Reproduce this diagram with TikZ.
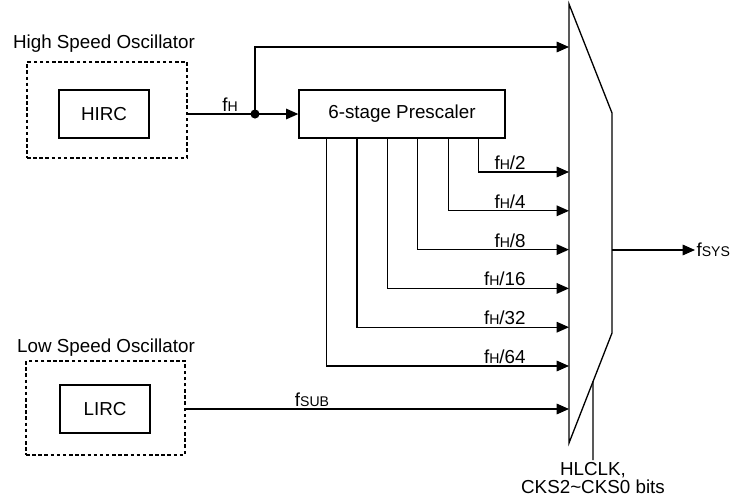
\documentclass[tikz,border=0pt]{standalone}
\usepackage{fontspec}
\setmainfont{Liberation Sans}
\usetikzlibrary{
    arrows.meta,
    calc,
    positioning
}
\newcommand{\sbs}[1]{{\fontsize{8}{9}\selectfont #1}}
\tikzset{
  every path/.style={
    black,
    line width=0.75pt
  },
  every node/.style={
    font=\fontsize{10.7}{12}\selectfont,
    inner sep=1pt
  },
  blk/.style={draw, minimum height=0.96cm, inner sep=0pt},
  osc/.style={draw, dash pattern=on 2pt off 1.5pt}
}

\begin{document}
\begin{tikzpicture}[x=0.02cm,y=-0.02cm,>={Triangle[length=7pt,width=6pt]}]
    \useasboundingbox (0,0) rectangle (735,501);

    % 高速発振器
    \node[osc,minimum width=3.2cm,minimum height=1.92cm] (hosc) at (107,110) {};
    \node[blk,minimum width=1.8cm] (hirc) at (104,114) {HIRC};
    \node[anchor=base] (hlabel) at (104,48) {High Speed Oscillator};

    % 低速発振器
    \node[osc,minimum width=3.18cm,minimum height=1.88cm] (losc) at (105.5,408) {};
    \node[blk,minimum width=1.8cm] (lirc) at (105,409) {LIRC};
    \node[anchor=base] (llabel) at (106,352) {Low Speed Oscillator};

    % プリスケーラ
    \node[blk,minimum width=4.12cm] (presc) at (402,114) {6-stage Prescaler};

    % セレクタ
    \coordinate (mtl) at (569,4);
    \coordinate (mtr) at (612,113);
    \coordinate (mbr) at (612,333);
    \coordinate (mbl) at (569,443);
    \draw (mtl) -- (mtr) -- (mbr) -- (mbl) -- cycle;

    % f_H
    \coordinate (split) at (255,114);
    \coordinate (hin) at (569,47);
    \draw (hirc -| hosc.east) -- (split);
    \fill (split) circle (2.6pt);
    \node[anchor=south] (fh) at (230,114) {f\sbs{H}};
    \draw[->] (split) -- (presc.west);
    \draw[->] (split) |- (hin);

    % 分周出力
    \foreach \i/\d in {0/2,1/4,2/8,3/16,4/32,5/64}{
        \draw[->] ($(presc.south east)+({-27-30.4*\i},0)$)
            |- ($(mtl)+(0,{168+38.8*\i})$);
        \node[anchor=south east] (div\i) at ($(mtl)+(-41,{168+38.8*\i})$)
            {f\sbs{H}/\d};
    }

    % f_SUB
    \coordinate (lin) at (569,409);
    \draw[->] (lirc -| losc.east) -- (lin);
    \node[anchor=south] (fsub) at (312,409) {f\sbs{SUB}};

    % f_SYS
    \coordinate (sysout) at (695,250);
    \draw[->] (mtr |- sysout) -- (sysout);
    \node[anchor=west,inner sep=0.5pt] (fsys) at (sysout) {f\sbs{SYS}};

    % 選択信号
    \coordinate (selin) at ($(mbr)!0.44!(mbl)$);
    \coordinate (selend) at (593,460);
    \draw (selend) -- (selin);
    \node[anchor=north,align=center,font=\fontsize{10.7}{10.4}\selectfont] (sel) at (selend)
        {HLCLK,\\CKS2\textasciitilde CKS0 bits};
\end{tikzpicture}
\end{document}
